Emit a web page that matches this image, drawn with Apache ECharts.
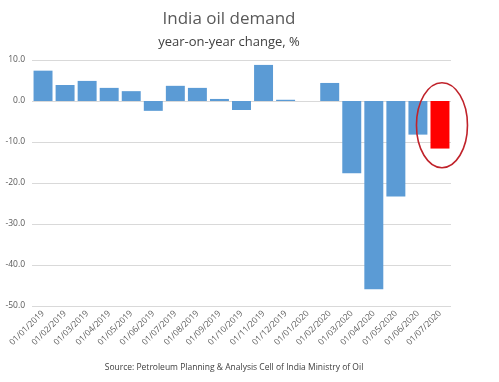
<!DOCTYPE html>
<html><head><meta charset="utf-8">
<script src="https://cdn.jsdelivr.net/npm/echarts@6/dist/echarts.min.js"></script>
<style>html,body{margin:0;padding:0;background:#fff}#c{width:499px;height:382px}</style>
</head><body><div id="c"></div>
<script>
const categories = ['01/01/2019','01/02/2019','01/03/2019','01/04/2019','01/05/2019','01/06/2019','01/07/2019','01/08/2019','01/09/2019','01/10/2019','01/11/2019','01/12/2019','01/01/2020','01/02/2020','01/03/2020','01/04/2020','01/05/2020','01/06/2020','01/07/2020'];
const values = [7.4, 3.9, 4.9, 3.2, 2.4, -2.4, 3.7, 3.2, 0.5, -2.2, 8.8, 0.3, 0.0, 4.4, -17.6, -45.9, -23.3, -8.2, -11.6];
const highlightIndex = 18;
const yTicks = {min: -50, max: 10, interval: 10};

const FONT = '"Open Sans", "Noto Sans", sans-serif';
const chart = echarts.init(document.getElementById('c'));
const data = values.map((v, i) => i === highlightIndex ? {value: v, itemStyle: {color: '#FF0000'}} : v);
chart.setOption({
  animation: false,
  title: [
    {text: 'India oil demand', left: 224, top: 6, textAlign: 'center',
     textStyle: {fontFamily: FONT, fontSize: 17, fontWeight: 'normal', color: '#595959'}},
    {text: 'year-on-year change, %', left: 224, top: 31, textAlign: 'center',
     textStyle: {fontFamily: FONT, fontSize: 13, fontWeight: 'normal', color: '#404040'}},
    {text: 'Source: Petroleum Planning & Analysis Cell of India Ministry of Oil', left: 229, top: 358, textAlign: 'center',
     textStyle: {fontFamily: FONT, fontSize: 8.5, fontWeight: 'normal', color: '#404040'}}
  ],
  grid: {left: 32, right: 48, top: 60, bottom: 76, containLabel: false},
  xAxis: {
    type: 'category', data: categories,
    axisLine: {show: false, onZero: false},
    axisTick: {show: false},
    axisLabel: {rotate: 45, fontFamily: FONT, fontSize: 8.5, color: '#595959', interval: 0, margin: 6}
  },
  yAxis: {
    type: 'value', min: yTicks.min, max: yTicks.max, interval: yTicks.interval,
    axisLine: {show: false}, axisTick: {show: false},
    axisLabel: {formatter: v => v.toFixed(1), fontFamily: FONT, fontSize: 8.5, color: '#595959', margin: 7},
    splitLine: {lineStyle: {color: '#d9d9d9', width: 1}}
  },
  series: [{type: 'bar', data: data, barCategoryGap: '14%', itemStyle: {color: '#5B9BD5'}}]
});
const c = chart.convertToPixel({xAxisIndex: 0, yAxisIndex: 0}, [highlightIndex, -5.9]);
chart.setOption({graphic: [{type: 'ellipse', shape: {cx: c[0] + 2, cy: c[1], rx: 25.5, ry: 42.5},
  style: {fill: 'none', stroke: '#C0232B', lineWidth: 1.6}, z: 100}]});
</script></body></html>
